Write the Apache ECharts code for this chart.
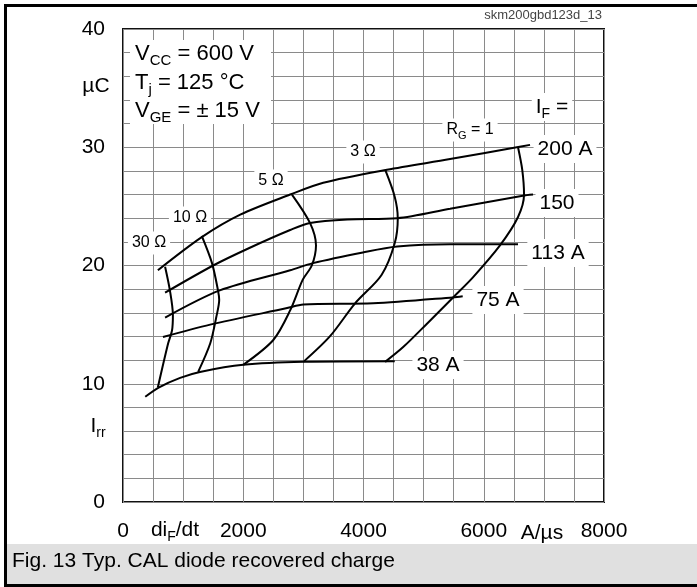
<!DOCTYPE html>
<html>
<head>
<meta charset="utf-8">
<script src="https://cdn.jsdelivr.net/npm/echarts@6/dist/echarts.min.js"></script>
<style>
  html, body { margin: 0; padding: 0; background: #fff; }
  #chart { width: 697px; height: 587px; }
</style>
</head>
<body>
<div id="chart"></div>
<script>
// recovered charge Qrr (uC) against diF/dt (A/us)
// curves of constant IF
const if200 = [[580, 19.6], [1310, 22.4], [1950, 24.3], [2780, 26.0], [3330, 27.0], [4390, 28.1], [5440, 29.0], [6550, 30.0], [6770, 30.2]]
const if150 = [[700, 17.7], [1500, 20.0], [2110, 21.5], [2780, 23.0], [3110, 23.6], [3730, 23.9], [4560, 24.0], [5440, 24.8], [6650, 25.9], [6820, 26.0]]
const if113 = [[700, 15.6], [1610, 17.9], [2780, 19.6], [3160, 20.2], [3990, 21.1], [4560, 21.6], [5440, 21.8], [6570, 21.8]]
const if75 = [[665, 13.95], [1450, 15.0], [2730, 16.4], [3000, 16.7], [4160, 16.8], [5490, 17.3], [5650, 17.4]]
const if38 = [[370, 8.9], [600, 9.7], [950, 10.5], [1280, 11.0], [2000, 11.6], [3000, 11.85], [4520, 11.9]]
// curves of constant RG
const rg30 = [[700, 19.9], [780, 17.9], [830, 15.8], [815, 14.5], [750, 13.4], [580, 9.7]]
const rg10 = [[1310, 22.5], [1480, 20.2], [1580, 17.9], [1600, 17.1], [1550, 15.6], [1450, 13.4], [1250, 11.0]]
const rg5 = [[2810, 26.0], [3110, 23.6], [3210, 21.7], [3140, 20.0], [2990, 18.8], [2780, 16.2], [2500, 13.7], [2000, 11.6]]
const rg3 = [[4360, 28.1], [4520, 25.8], [4570, 24.0], [4520, 21.9], [4300, 19.2], [3860, 16.8], [3440, 14.0], [3000, 11.85]]
const rg1 = [[6570, 30.0], [6640, 28.1], [6670, 26.0], [6570, 24.1], [6270, 21.7], [5820, 19.0], [5490, 17.3], [5060, 15.1], [4660, 13.1], [4360, 11.85]]

const xTicks = [0, 2000, 4000, 6000, 8000]
const yTicks = [0, 10, 20, 30, 40]

const FONT = '"Liberation Sans", Arial, sans-serif'

function subStyle(size) {
  return { fontSize: Math.round(size * 0.68), fontFamily: FONT, verticalAlign: 'bottom', lineHeight: size + 7, fill: '#000' }
}

function curve(data) {
  return {
    type: 'line',
    data: data,
    smooth: 0.3,
    showSymbol: false,
    silent: true,
    lineStyle: { color: '#000', width: 2 }
  }
}

// text with a white box that cuts the grid lines
function tag(text, x, y, size) {
  return {
    type: 'text',
    x: x,
    y: y,
    z: 20,
    style: {
      text: text,
      fontSize: size,
      fontFamily: FONT,
      fill: '#000',
      align: 'center',
      verticalAlign: 'middle',
      lineHeight: size + 7,
      backgroundColor: '#fff',
      padding: [0, 4],
      rich: { s: subStyle(size) }
    }
  }
}

function plain(text, x, y, size, align, color) {
  return {
    type: 'text',
    x: x,
    y: y,
    z: 40,
    style: {
      text: text,
      fontSize: size,
      fontFamily: FONT,
      fill: color || '#000',
      align: align || 'center',
      verticalAlign: 'middle',
      lineHeight: size + 7,
      rich: { s: subStyle(size) }
    }
  }
}

const chart = echarts.init(document.getElementById('chart'))
chart.setOption({
  animation: false,
  backgroundColor: '#fff',
  grid: {
    left: 123,
    top: 29,
    width: 481,
    height: 473,
    show: true,
    borderColor: '#111',
    borderWidth: 2,
    backgroundColor: 'transparent'
  },
  xAxis: {
    type: 'value',
    min: 0,
    max: 8000,
    interval: 500,
    axisLine: { show: false },
    axisTick: { show: false },
    splitLine: { show: true, lineStyle: { color: '#8a8a8a', width: 1 } },
    axisLabel: {
      margin: 19,
      fontSize: 21,
      fontFamily: FONT,
      color: '#000',
      formatter: v => xTicks.indexOf(v) >= 0 ? String(v) : ''
    }
  },
  yAxis: {
    type: 'value',
    min: 0,
    max: 40,
    interval: 2,
    axisLine: { show: false },
    axisTick: { show: false },
    splitLine: { show: true, lineStyle: { color: '#8a8a8a', width: 1 } },
    axisLabel: {
      margin: 18,
      fontSize: 21,
      fontFamily: FONT,
      color: '#000',
      formatter: v => yTicks.indexOf(v) >= 0 ? String(v) : ''
    }
  },
  series: [
    curve(if200), curve(if150), curve(if113), curve(if75), curve(if38),
    curve(rg30), curve(rg10), curve(rg5), curve(rg3), curve(rg1)
  ],
  graphic: [
    // outer frame and caption bar
    { type: 'rect', z: 30, shape: { x: 4, y: 4, width: 693, height: 3 }, style: { fill: '#000' } },
    { type: 'rect', z: 30, shape: { x: 4, y: 4, width: 3, height: 583 }, style: { fill: '#000' } },
    { type: 'rect', z: 29, shape: { x: 7, y: 544, width: 690, height: 41 }, style: { fill: '#e0e0e0' } },
    { type: 'rect', z: 30, shape: { x: 4, y: 584, width: 693, height: 3 }, style: { fill: '#000' } },
    plain('Fig. 13 Typ. CAL diode recovered charge', 12, 561, 21, 'left'),
    plain('skm200gbd123d_13', 602, 15, 13, 'right', '#444'),
    // axis names
    plain('µC', 96, 86, 21, 'center'),
    plain('I{s|rr}', 98, 426, 21, 'center'),
    plain('di{s|F}/dt', 175, 530, 21, 'center'),
    plain('A/µs', 542, 533, 21, 'center'),
    // conditions box
    { type: 'rect', z: 19, shape: { x: 130, y: 40, width: 141, height: 84 }, style: { fill: '#fff' } },
    {
      type: 'text', x: 135, y: 40, z: 20,
      style: {
        text: 'V{s|CC} = 600 V\nT{s|j} = 125 °C\nV{s|GE} = ± 15 V',
        fontSize: 22, fontFamily: FONT, fill: '#000',
        align: 'left', verticalAlign: 'top', lineHeight: 28.5,
        rich: { s: { fontSize: 15, fontFamily: FONT, verticalAlign: 'bottom', lineHeight: 28.5 } }
      }
    },
    // RG labels
    tag('30 Ω', 149, 243, 16),
    tag('10 Ω', 190, 218, 16),
    tag('5 Ω', 271, 181, 16),
    tag('3 Ω', 363, 152, 16),
    tag('R{s|G} = 1', 470, 130, 16),
    // IF labels
    tag('I{s|F} =', 552, 107, 21),
    tag('200 A', 565, 149, 21),
    tag('150', 557, 203, 21),
    tag('113 A', 558, 253, 21),
    tag('75 A', 498, 300, 21),
    tag('38 A', 438, 365, 21)
  ]
})
</script>
</body>
</html>
